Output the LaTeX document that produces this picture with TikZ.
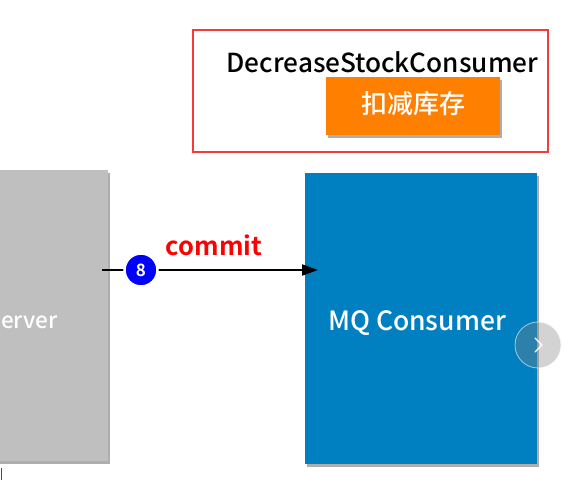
\documentclass[tikz,border=0pt]{standalone}
\usepackage{fontspec}
\setmainfont{Noto Sans CJK SC}[UprightFont=* Medium,BoldFont=* Bold]
\usetikzlibrary{shadows,arrows.meta}
\definecolor{boxblue}{HTML}{0080C0}
\definecolor{boxgray}{HTML}{BFBFBF}
\definecolor{boxorange}{HTML}{FF8000}
\definecolor{framered}{HTML}{F23C3C}
\begin{document}
\begin{tikzpicture}[x=1pt,y=-1pt,
  box/.style={draw=none,drop shadow={shadow xshift=2pt,shadow yshift=-3pt,opacity=0.45,fill=black!70}},
  lbl/.style={text=white,inner sep=0pt,font=\fontsize{26.5}{28}\selectfont}]
\useasboundingbox (0,0) rectangle (578,480);
\clip (0,0) rectangle (578,480);
% red frame
\node[draw=framered,line width=2pt,minimum width=355pt,minimum height=122pt,inner sep=0pt] (frame) at (370,90.5) {};
% orange box
\fill[boxorange,box] (326,77) rectangle (500,135);
\node[text=white,font=\fontsize{26}{28}\selectfont,inner sep=0pt] (ortxt) at (413,104) {扣减库存};
% title
\node[text=black,inner sep=0pt,font=\fontsize{26.2}{28}\selectfont] (title) at (382.5,62) {DecreaseStockConsumer};
% gray box
\fill[boxgray,box] (-10,170) rectangle (108,461);
\node[inner sep=0pt,minimum width=118pt,minimum height=291pt] (server) at (49,315.5) {};
\node[lbl,anchor=west,font=\fontsize{22.5}{24}\selectfont] (servertxt) at (1,322) {erver};
% blue box
\fill[boxblue,box] (305,173) rectangle (537,464);
\node[inner sep=0pt,minimum width=232pt,minimum height=291pt] (mq) at (421,318.5) {};
\node[lbl] (mqtxt) at (417,323) {MQ Consumer};
% arrow
\coordinate (astart) at (102,270);
\coordinate (aend) at (318,270);
\draw[line width=2pt,-{Triangle[length=16pt,width=11pt]}] (astart) -- (aend);
% step circle
\node[circle,fill=blue,draw=white,line width=2.5pt,minimum size=33pt,inner sep=0pt,text=white,font=\bfseries\fontsize{17}{18}\selectfont] (s8) at (141,270) {8};
% commit label
\node[text=red,inner sep=0pt,font=\bfseries\fontsize{25.5}{27}\selectfont] (commit) at (214,245.5) {commit};
% nav button
\node[circle,fill=gray,fill opacity=0.35,draw=white,draw opacity=0.6,line width=0.8pt,minimum size=46pt,inner sep=0pt] (nav) at (538,345) {};
\draw[white,line width=1.3pt,line cap=round,line join=round] ([xshift=-3pt,yshift=7pt]nav.center) -- ([xshift=4pt]nav.center) -- ([xshift=-3pt,yshift=-7pt]nav.center);
% small tick bottom-left
\draw[black!70,line width=1pt] (1,468) -- (1,480);
\end{tikzpicture}
\end{document}
